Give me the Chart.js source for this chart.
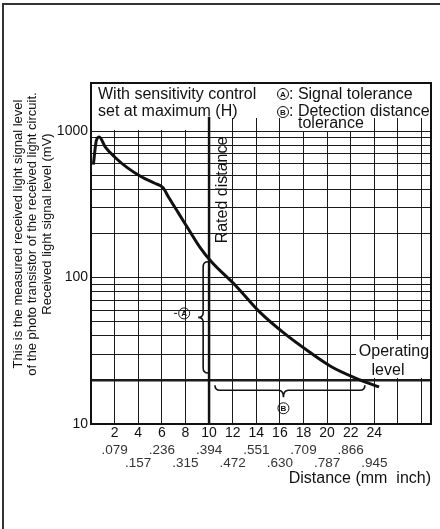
<!DOCTYPE html>
<html>
<head>
<meta charset="utf-8">
<script src="https://cdn.jsdelivr.net/npm/chart.js@4"></script>
<style>
  html, body { margin: 0; padding: 0; background: #fff; overflow: hidden; }
  canvas { display: block; }
</style>
</head>
<body>
<canvas id="chart" width="440" height="529"></canvas>
<script>
// received light level (mV) vs distance (mm)
const curveDistance = [0.2, 0.45, 0.7, 1.2, 2.0, 3.1, 4.3, 5.4, 6.1, 6.6, 7.4, 8.3, 9.2, 10.2, 12.2, 14.3, 16.3, 18.5, 20.4, 22.4, 24.4];
const curveLevel    = [590, 860, 910, 780, 665, 560, 485, 440, 410, 350, 276, 211, 162, 128, 89, 58, 42, 31, 24.5, 20.6, 17.9];

const gridDistance = [0, 2, 4, 6, 8, 10, 12, 14, 16, 18, 20, 22, 24, 26, 28];
const mmLabels = [2, 4, 6, 8, 10, 12, 14, 16, 18, 20, 22, 24];
const inchLabels = ['.079', '.157', '.236', '.315', '.394', '.472', '.551', '.630', '.709', '.787', '.866', '.945'];

const levelTicks = [10, 20, 30, 40, 50, 60, 70, 80, 90, 100, 200, 300, 400, 500, 600, 700, 800, 900, 1000];
const levelLabels = [10, 100, 1000];

const operatingLevel = 20;      // mV
const ratedDistance = 10;       // mm
const ratedLineTop = 1250;      // mV, where the rated line stops
const signalTolerance = [22.3, 128];     // mV  (A)
const detectionTolerance = [10.5, 23.2]; // mm  (B)

const FONT = '"Liberation Sans", Arial, Helvetica, sans-serif';
const INK = '#111';

function circled(ctx, letter, x, y) {
  ctx.beginPath();
  ctx.arc(x, y, 5.5, 0, Math.PI * 2);
  ctx.lineWidth = 1;
  ctx.strokeStyle = INK;
  ctx.stroke();
  ctx.fillStyle = INK;
  ctx.font = 'bold 8px ' + FONT;
  ctx.textAlign = 'center';
  ctx.textBaseline = 'middle';
  ctx.fillText(letter, x, y + 0.5);
}

function vBrace(ctx, x, y1, y2, w) {
  const yt = (y1 + y2) / 2;
  ctx.beginPath();
  ctx.moveTo(x + w, y1);
  ctx.quadraticCurveTo(x, y1, x, y1 + w);
  ctx.lineTo(x, yt - w);
  ctx.quadraticCurveTo(x, yt, x - w, yt);
  ctx.quadraticCurveTo(x, yt, x, yt + w);
  ctx.lineTo(x, y2 - w);
  ctx.quadraticCurveTo(x, y2, x + w, y2);
  ctx.stroke();
  return yt;
}

function hBrace(ctx, x1, x2, y, xt, w) {
  ctx.beginPath();
  ctx.moveTo(x1, y - w);
  ctx.quadraticCurveTo(x1, y, x1 + w, y);
  ctx.lineTo(xt - w, y);
  ctx.quadraticCurveTo(xt, y, xt, y + w + 2);
  ctx.quadraticCurveTo(xt, y, xt + w, y);
  ctx.lineTo(x2 - w, y);
  ctx.quadraticCurveTo(x2, y, x2, y - w);
  ctx.stroke();
}

// page frame: top and left edges only
const frame = {
  id: 'frame',
  beforeDraw(chart) {
    const {ctx} = chart;
    ctx.save();
    ctx.fillStyle = '#fff';
    ctx.fillRect(0, 0, 440, 529);
    ctx.fillStyle = '#333';
    ctx.fillRect(2, 3, 438, 2);
    ctx.fillRect(2, 3, 2, 526);
    ctx.restore();
  }
};

const covers = {
  id: 'covers',
  beforeDatasetsDraw(chart) {
    const {ctx, chartArea: ca, scales: {x, y}} = chart;
    const y1000 = y.getPixelForValue(1000);
    const xr = x.getPixelForValue(ratedDistance);
    ctx.save();
    ctx.fillStyle = '#fff';
    ctx.fillRect(ca.left + 2, ca.top + 1, ca.right - ca.left - 3, 34);
    ctx.fillRect(ca.left + 2, ca.top + 1, xr - ca.left - 5, y1000 - ca.top - 2);
    ctx.fillRect(293, ca.top + 1, 64, y1000 - ca.top - 1);
    // operating level box
    const yOp = y.getPixelForValue(operatingLevel);
    ctx.fillRect(356, yOp - 40, ca.right - 357, 38);
    ctx.restore();
  }
};

const notes = {
  id: 'notes',
  afterDatasetsDraw(chart) {
    const {ctx, chartArea: ca, scales: {x, y}} = chart;
    ctx.save();
    ctx.fillStyle = INK;
    ctx.strokeStyle = INK;

    ctx.font = '16px ' + FONT;
    ctx.textAlign = 'left';
    ctx.textBaseline = 'middle';
    ctx.fillText('With sensitivity control', ca.left + 7, ca.top + 12);
    ctx.fillText('set at maximum (H)', ca.left + 7, ca.top + 29);

    circled(ctx, 'A', 283, ca.top + 11);
    circled(ctx, 'B', 283, ca.top + 29);
    ctx.font = '16px ' + FONT;
    ctx.textAlign = 'left';
    ctx.fillText(': Signal tolerance', 289, ca.top + 12);
    ctx.fillText(': Detection distance', 289, ca.top + 29);
    ctx.fillText('tolerance', 298, ca.top + 41);

    // rated distance
    const xr = x.getPixelForValue(ratedDistance);
    ctx.save();
    ctx.translate(xr + 14, 190);
    ctx.rotate(-Math.PI / 2);
    ctx.textAlign = 'center';
    ctx.fillText('Rated distance', 0, 0);
    ctx.restore();

    // operating level
    const yOp = y.getPixelForValue(operatingLevel);
    ctx.textAlign = 'center';
    ctx.fillText('Operating', 394, yOp - 28);
    ctx.fillText('level', 388, yOp - 9);

    // signal tolerance brace (A)
    ctx.lineWidth = 1.6;
    const bx = x.getPixelForValue(9.5);
    const yt = vBrace(ctx, bx, y.getPixelForValue(signalTolerance[1]), y.getPixelForValue(signalTolerance[0]), 5);
    circled(ctx, 'A', bx - 19, yt - 4);
    ctx.lineWidth = 1;
    ctx.beginPath();
    ctx.moveTo(bx - 29, yt - 4);
    ctx.lineTo(bx - 26, yt - 4);
    ctx.stroke();

    // detection distance brace (B)
    ctx.lineWidth = 1.6;
    const by = y.getPixelForValue(17);
    const x1 = x.getPixelForValue(detectionTolerance[0]);
    const x2 = x.getPixelForValue(detectionTolerance[1]);
    const xt = x.getPixelForValue(16.3);
    hBrace(ctx, x1, x2, by, xt, 5);
    circled(ctx, 'B', xt, by + 18);

    // plot frame
    ctx.lineWidth = 2;
    ctx.strokeStyle = '#111';
    ctx.strokeRect(ca.left, ca.top, ca.right - ca.left, ca.bottom - ca.top);

    // y title
    ctx.font = '13px ' + FONT;
    ctx.textAlign = 'center';
    const ylines = [
      ['This is the measured received light signal level', 18, 234],
      ['of the photo transistor of the received light circuit.', 32.5, 234],
      ['Received light signal level (mV)', 47, 224]
    ];
    ylines.forEach(([t, lx, ly]) => {
      ctx.save();
      ctx.translate(lx, ly);
      ctx.rotate(-Math.PI / 2);
      ctx.fillText(t, 0, 0);
      ctx.restore();
    });
    ctx.restore();
  }
};

const ctx = document.getElementById('chart').getContext('2d');
new Chart(ctx, {
  type: 'line',
  data: {
    datasets: [
      {
        label: 'Received light level',
        data: curveDistance.map((d, i) => ({x: d, y: curveLevel[i]})),
        borderColor: INK,
        borderWidth: 3,
        pointRadius: 0,
        fill: false,
        cubicInterpolationMode: 'monotone'
      },
      {
        label: 'Rated distance',
        data: [{x: ratedDistance, y: 10}, {x: ratedDistance, y: ratedLineTop}],
        borderColor: INK,
        borderWidth: 2.5,
        pointRadius: 0,
        fill: false
      }
    ]
  },
  options: {
    responsive: false,
    animation: false,
    events: [],
    layout: { padding: { top: 83, right: 9, left: 0, bottom: 41 } },
    plugins: {
      legend: { display: false },
      tooltip: { enabled: false }
    },
    scales: {
      x: {
        type: 'linear',
        position: 'bottom',
        min: 0,
        max: 28.8,
        afterBuildTicks: (s) => { s.ticks = gridDistance.map(v => ({value: v})); },
        afterFit: (s) => { s.height = 17; },
        grid: { color: '#1a1a1a', lineWidth: 1, drawTicks: false },
        border: { display: true, color: '#111', width: 2 },
        ticks: {
          autoSkip: false,
          maxRotation: 0,
          padding: 1,
          color: INK,
          font: { family: FONT, size: 14 },
          callback: (v) => mmLabels.includes(v) ? String(v) : ''
        }
      },
      x2: {
        type: 'linear',
        position: 'bottom',
        min: 0,
        max: 28.8,
        afterBuildTicks: (s) => { s.ticks = gridDistance.map(v => ({value: v})); },
        afterFit: (s) => { s.height = 47; },
        grid: { display: false, drawTicks: false },
        border: { display: false },
        ticks: {
          autoSkip: false,
          maxRotation: 0,
          padding: 2.5,
          color: '#333',
          font: { family: FONT, size: 13.5, lineHeight: 1.0 },
          callback: (v) => {
            const i = mmLabels.indexOf(v);
            if (i < 0) return '';
            return i % 2 === 0 ? [inchLabels[i], ''] : ['', inchLabels[i]];
          }
        },
        title: {
          display: true,
          text: 'Distance (mm  inch)',
          align: 'end',
          color: INK,
          font: { family: FONT, size: 16 },
          padding: { top: 0, bottom: 0 }
        }
      },
      y: {
        type: 'logarithmic',
        min: 10,
        max: 2127,
        afterBuildTicks: (s) => { s.ticks = levelTicks.map(v => ({value: v})); },
        afterFit: (s) => { s.width = 91; },
        grid: {
          color: '#1a1a1a',
          drawTicks: false,
          lineWidth: (c) => (c.tick && c.tick.value === operatingLevel) ? 2.5 : 1
        },
        border: { display: true, color: '#111', width: 2 },
        ticks: {
          autoSkip: false,
          padding: 3,
          color: INK,
          font: { family: FONT, size: 14 },
          callback: (v) => levelLabels.includes(v) ? String(v) : ''
        }
      }
    }
  },
  plugins: [frame, covers, notes]
});
</script>
</body>
</html>
